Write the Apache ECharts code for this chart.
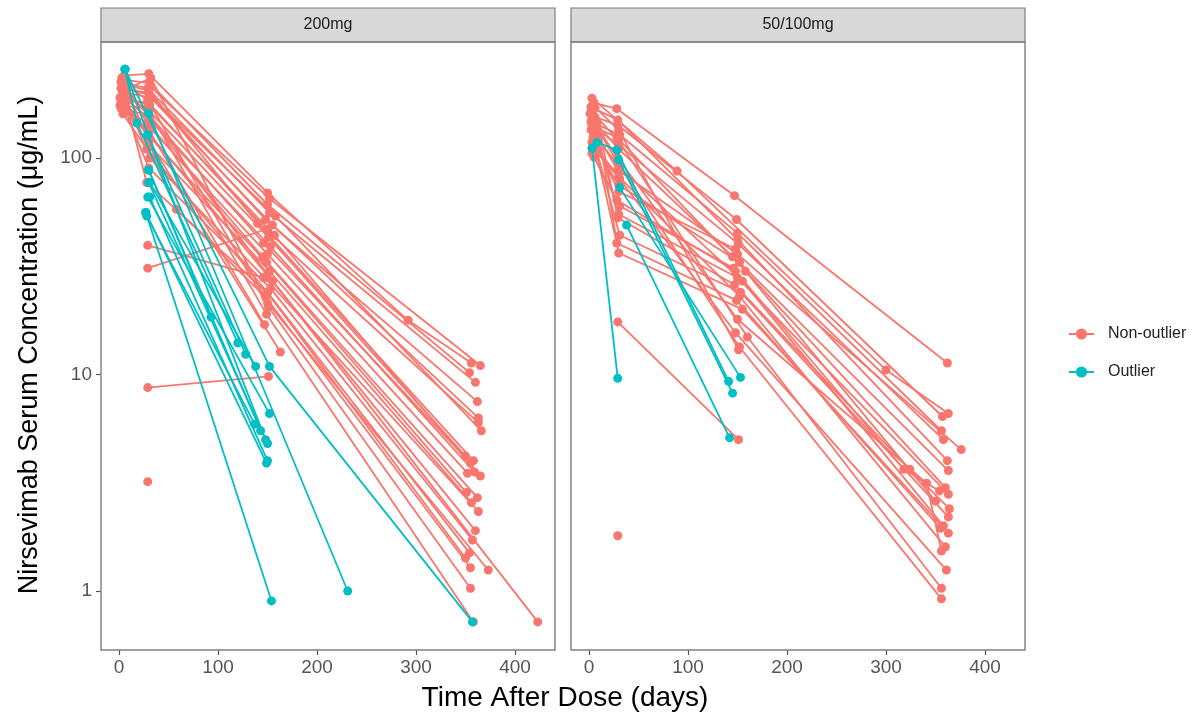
<!DOCTYPE html>
<html>
<head>
<meta charset="utf-8">
<script src="https://cdn.jsdelivr.net/npm/echarts@6/dist/echarts.min.js"></script>
<style>
html,body{margin:0;padding:0;background:#fff;}
#chart{width:1194px;height:715px;}
</style>
</head>
<body>
<div id="chart"></div>
<script>
// ---- Data (day, concentration µg/mL), one inner array per subject ----
const panelNames = ["200mg", "50/100mg"];
const groupNames = ["Non-outlier", "Outlier"];
const xTicks = [0, 100, 200, 300, 400];
const yTicks = [1, 10, 100];

const dose200NonOutlier = [
  [[5,240],[30,245],[150,69],[292,17.8],[356,11.3]],
  [[3,230],[31,222],[150,61],[354,10.2]],
  [[6,222],[29,210],[152,56],[360,9.2]],
  [[2,210],[30,200],[148,52],[362,7.5]],
  [[7,200],[32,190],[155,49],[363,6.3]],
  [[4,185],[30,180],[150,46],[363,6.0]],
  [[1,175],[28,170],[151,43],[350,4.2]],
  [[5,165],[29,160],[146,40.5],[355,3.9]],
  [[3,195],[31,150],[153,39],[359,3.55]],
  [[8,215],[30,140],[150,36],[352,3.5]],
  [[2,180],[29,128],[149,33],[351,2.85]],
  [[6,170],[30,115],[152,30],[356,2.56]],
  [[4,200],[31,100],[147,28],[363,2.33]],
  [[1,190],[30,90],[153,25],[357,1.72]],
  [[7,180],[28,77],[150,23.8],[350,1.42]],
  [[3,235],[58,58],[148,22.8],[355,1.28]],
  [[5,205],[32,235],[150,21.4],[373,1.25]],
  [[2,225],[29,185],[151,20.5],[355,1.03]],
  [[6,195],[30,165],[149,19],[358,0.72]],
  [[4,215],[31,155],[150,29],[423,0.72]],
  [[3,220],[30,205],[140,50],[358,4.0]],
  [[6,190],[31,175],[157,44],[365,3.4]],
  [[2,170],[29,145],[145,35],[362,2.7]],
  [[5,185],[30,130],[155,27],[360,1.9]],
  [[4,160],[28,110],[150,24],[354,1.5]],
  [[7,210],[31,195],[158,54],[366,5.5]],
  [[29,39.5],[146,28]],
  [[29,31],[150,47]],
  [[29,8.7],[151,9.8]],
  [[29,3.2]],
  [[30,135],[147,17]],
  [[30,120],[163,12.7]],
  [[31,215],[152,65],[365,11]]
];
const dose200Outlier = [
  [[6,257],[152,10.9],[357,0.72]],
  [[30,161],[231,1.0]],
  [[27,56],[154,0.9]],
  [[6,257],[18,145],[120,14]],
  [[29,128],[128,12.4]],
  [[30,88],[93,18.4]],
  [[31,77],[138,10.9]],
  [[29,66],[152,6.6]],
  [[28,54],[137,5.9]],
  [[30,88],[143,5.5]],
  [[6,257],[29,128],[148,5.0]],
  [[30,77],[150,4.8]],
  [[31,66],[150,4.0]],
  [[27,56],[149,3.9]]
];
const dose50NonOutlier = [
  [[5,180],[28,169],[147,67],[362,11.3]],
  [[3,189],[89,87],[300,10.5],[363,6.6]],
  [[6,155],[29,142],[149,52],[357,6.4]],
  [[2,147],[31,128],[150,45],[356,5.5]],
  [[4,139],[30,115],[151,40],[358,5.0]],
  [[7,130],[29,88],[150,36],[376,4.5]],
  [[3,118],[30,75],[152,33],[363,3.6]],
  [[5,101],[28,64],[148,30],[318,3.65],[354,2.9]],
  [[1,160],[30,55],[150,28],[363,2.8]],
  [[6,170],[29,53],[147,26],[324,3.65],[364,2.4]],
  [[2,135],[31,44],[153,24],[363,2.2]],
  [[4,125],[28,40.5],[149,22],[355,1.95]],
  [[8,145],[30,36.4],[155,20],[363,1.85]],
  [[3,150],[29,100],[150,18],[341,3.15],[356,1.53]],
  [[5,110],[31,80],[148,15.6],[361,1.25]],
  [[2,165],[30,120],[160,14.9],[356,1.03]],
  [[7,140],[29,95],[152,13.4],[356,0.92]],
  [[4,150],[30,110],[145,35],[360,3.0]],
  [[6,128],[31,90],[155,27],[358,2.0]],
  [[2,172],[29,150],[150,42],[362,4.0]],
  [[5,115],[30,82],[152,23],[360,1.6]],
  [[3,140],[28,125],[158,30],[350,2.6]],
  [[29,17.5],[151,5.0]],
  [[29,1.8]],
  [[4,175],[30,135],[151,13]],
  [[6,120],[30,70],[148,38]],
  [[3,105],[31,60],[146,31]]
];
const dose50Outlier = [
  [[3,111],[29,9.6]],
  [[8,118],[28,109],[141,9.3]],
  [[30,98],[145,8.2]],
  [[31,73],[153,9.7]],
  [[38,49],[142,5.1]]
];

// ---- Chart ----
const RED = "#F8766D", CYAN = "#00BFC4";
const FONT = "Liberation Sans, Arial, sans-serif";
const panels = [
  {left: 101, groups: [dose200NonOutlier, dose200Outlier]},
  {left: 571, groups: [dose50NonOutlier, dose50Outlier]}
];
const PW = 454, TOP = 42, PH = 608, STRIP_TOP = 8;

const grids = [], xAxes = [], yAxes = [], series = [], graphics = [];
panels.forEach((p, i) => {
  grids.push({left: p.left, top: TOP, width: PW, height: PH, containLabel: false});
  xAxes.push({
    type: "value", gridIndex: i, min: -18.2, max: 440.4,
    axisLine: {show: false, onZero: false},
    axisTick: {show: true, length: 5, lineStyle: {color: "#555", width: 1.2}, customValues: xTicks},
    axisLabel: {color: "#555", fontSize: 19, fontFamily: FONT, margin: 8, customValues: xTicks},
    splitLine: {show: false}
  });
  yAxes.push({
    type: "log", logBase: 10, gridIndex: i, min: 0.534, max: 343.5,
    axisLine: {show: false, onZero: false},
    axisTick: {show: i === 0, length: 5, lineStyle: {color: "#555", width: 1.2}, customValues: yTicks},
    axisLabel: {show: i === 0, color: "#555", fontSize: 19, fontFamily: FONT, margin: 9, customValues: yTicks},
    splitLine: {show: false}, minorSplitLine: {show: false}
  });
  p.groups.forEach((subjects, g) => {
    subjects.forEach(subj => {
      series.push({
        type: "line", name: groupNames[g], xAxisIndex: i, yAxisIndex: i,
        data: subj, symbol: "circle", symbolSize: 9, showSymbol: true,
        color: g === 0 ? RED : CYAN,
        lineStyle: {width: 1.8, color: g === 0 ? RED : CYAN},
        itemStyle: {color: g === 0 ? RED : CYAN},
        z: g === 0 ? 2 : 3,
        emphasis: {disabled: true}, silent: true
      });
    });
  });
  graphics.push({type: "rect", shape: {x: p.left, y: STRIP_TOP, width: PW, height: TOP - STRIP_TOP},
    style: {fill: "#d9d9d9", stroke: "#7f7f7f", lineWidth: 1.2}, z: 50});
  graphics.push({type: "text", x: p.left + PW / 2, y: (STRIP_TOP + TOP) / 2,
    style: {text: panelNames[i], fill: "#1a1a1a", font: "16px " + FONT, textAlign: "center", textVerticalAlign: "middle"}, z: 51});
  graphics.push({type: "rect", shape: {x: p.left, y: TOP, width: PW, height: PH},
    style: {fill: "none", stroke: "#7f7f7f", lineWidth: 1.4}, z: 50});
});

graphics.push({type: "text", x: 565, y: 698,
  style: {text: "Time After Dose (days)", fill: "#000", font: "28px " + FONT, textAlign: "center", textVerticalAlign: "middle"}, z: 51});
graphics.push({type: "text", x: 30, y: 345, rotation: Math.PI / 2,
  style: {text: "Nirsevimab Serum Concentration (μg/mL)", fill: "#000", font: "27px " + FONT, textAlign: "center", textVerticalAlign: "middle"}, z: 51});

const chart = echarts.init(document.getElementById("chart"), null, {renderer: "canvas"});
chart.setOption({
  animation: false,
  backgroundColor: "#fff",
  grid: grids, xAxis: xAxes, yAxis: yAxes, series: series,
  legend: {
    data: groupNames.map((n, g) => ({name: n, itemStyle: {color: g === 0 ? RED : CYAN}, lineStyle: {color: g === 0 ? RED : CYAN, width: 2}})),
    orient: "vertical", left: 1068, top: 326, padding: 0, itemWidth: 25, itemHeight: 14, itemGap: 22,
    textStyle: {fontSize: 16, fontFamily: FONT, color: "#222", padding: [0, 0, 0, 9]},
    selectedMode: false
  },
  graphic: graphics
});
</script>
</body>
</html>
